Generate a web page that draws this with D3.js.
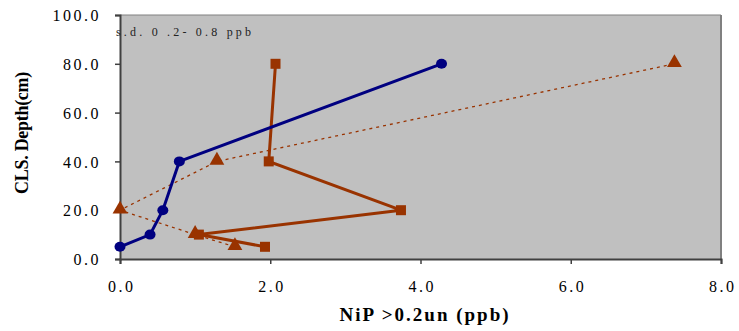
<!DOCTYPE html>
<html><head><meta charset="utf-8">
<script src="https://cdn.jsdelivr.net/npm/d3@7"></script>
<style>body{margin:0;background:#fff}svg{display:block}</style>
</head><body>
<svg id="c" width="739" height="331"></svg>
<script>
const xTicks = [0, 2, 4, 6, 8];
const yTicks = [0, 20, 40, 60, 80, 100];
const depth = [5, 10, 20, 40, 80];
const seriesCircle = [0.0, 0.4, 0.57, 0.79, 4.28];
const seriesSquare = [1.93, 1.05, 3.74, 1.98, 2.07];
const seriesTriangle = [1.53, 1.0, 0.0, 1.29, 7.38];
const xTitle = "NiP >0.2un (ppb)";
const yTitle = "CLS. Depth(cm)";
const note = "s.d. 0 .2- 0.8 ppb";

const svg = d3.select("#c");
const L = 120, R = 721, T = 15, B = 259;
const x = d3.scaleLinear().domain([0, 8]).range([L, R]);
const y = d3.scaleLinear().domain([0, 100]).range([B, T]);
const serif = "'Liberation Serif','Times New Roman',serif";

svg.append("rect").attr("x", L).attr("y", T).attr("width", R - L).attr("height", B - T).attr("fill", "#C0C0C0");
svg.append("line").attr("x1", L).attr("x2", R).attr("y1", T).attr("y2", T).attr("stroke", "#808080").attr("stroke-width", 1);
svg.append("line").attr("x1", R).attr("x2", R).attr("y1", T).attr("y2", B).attr("stroke", "#808080").attr("stroke-width", 2);

const xa = svg.append("g").attr("transform", `translate(0,${B})`)
  .call(d3.axisBottom(x).tickValues(xTicks).tickFormat(d3.format(".1f")).tickSize(5).tickPadding(17));
const ya = svg.append("g").attr("transform", `translate(${L},0)`)
  .call(d3.axisLeft(y).tickValues(yTicks).tickFormat(d3.format(".1f")).tickSize(5).tickPadding(14));
[xa, ya].forEach(a => {
  a.selectAll("path").attr("stroke", "#404040").attr("stroke-width", 2);
  a.selectAll("line").attr("stroke", "#404040").attr("stroke-width", 1.5);
  a.selectAll("text").attr("font-family", serif).attr("font-size", 16).attr("fill", "#000").attr("letter-spacing", 2.5);
});
ya.selectAll("text").attr("dy", "0.35em");
xa.selectAll("text").attr("dx", 1.2);

const brown = "#993300", navy = "#000080";
const line = d3.line().x(d => x(d[0])).y(d => y(d[1]));

const circ = seriesCircle.map((v, i) => [v, depth[i]]);
const sq = seriesSquare.map((v, i) => [v, depth[i]]);
const tri = seriesTriangle.map((v, i) => [v, depth[i]]);

svg.append("path").datum(tri).attr("d", line).attr("fill", "none").attr("stroke", brown).attr("stroke-width", 1.3).attr("stroke-dasharray", "3,4");
svg.append("path").datum(sq).attr("d", line).attr("fill", "none").attr("stroke", brown).attr("stroke-width", 3);
svg.append("path").datum(circ).attr("d", line).attr("fill", "none").attr("stroke", navy).attr("stroke-width", 3);

svg.selectAll(".tri").data(tri).enter().append("path")
  .attr("d", d3.symbol().type(d3.symbolTriangle).size(95))
  .attr("transform", d => `translate(${x(d[0])},${y(d[1]) - 1})`).attr("fill", brown);
svg.selectAll(".sq").data(sq).enter().append("rect")
  .attr("x", d => x(d[0]) - 5).attr("y", d => y(d[1]) - 5).attr("width", 10).attr("height", 10).attr("fill", brown);
svg.selectAll(".ci").data(circ).enter().append("ellipse")
  .attr("cx", d => x(d[0])).attr("cy", d => y(d[1])).attr("rx", 5.5).attr("ry", 5).attr("fill", navy);

svg.append("text").attr("x", 116).attr("y", 36).attr("font-family", serif).attr("font-size", 12)
  .attr("letter-spacing", 3.2).attr("fill", "#222").text(note);

svg.append("text").attr("x", 425).attr("y", 321).attr("text-anchor", "middle").attr("font-family", serif)
  .attr("font-size", 19).attr("font-weight", "bold").attr("letter-spacing", 2).text(xTitle);
svg.append("text").attr("transform", "translate(28,133) rotate(-90)").attr("text-anchor", "middle")
  .attr("font-family", serif).attr("font-size", 18).attr("font-weight", "bold").attr("letter-spacing", -0.3).text(yTitle);
</script>
</body></html>
